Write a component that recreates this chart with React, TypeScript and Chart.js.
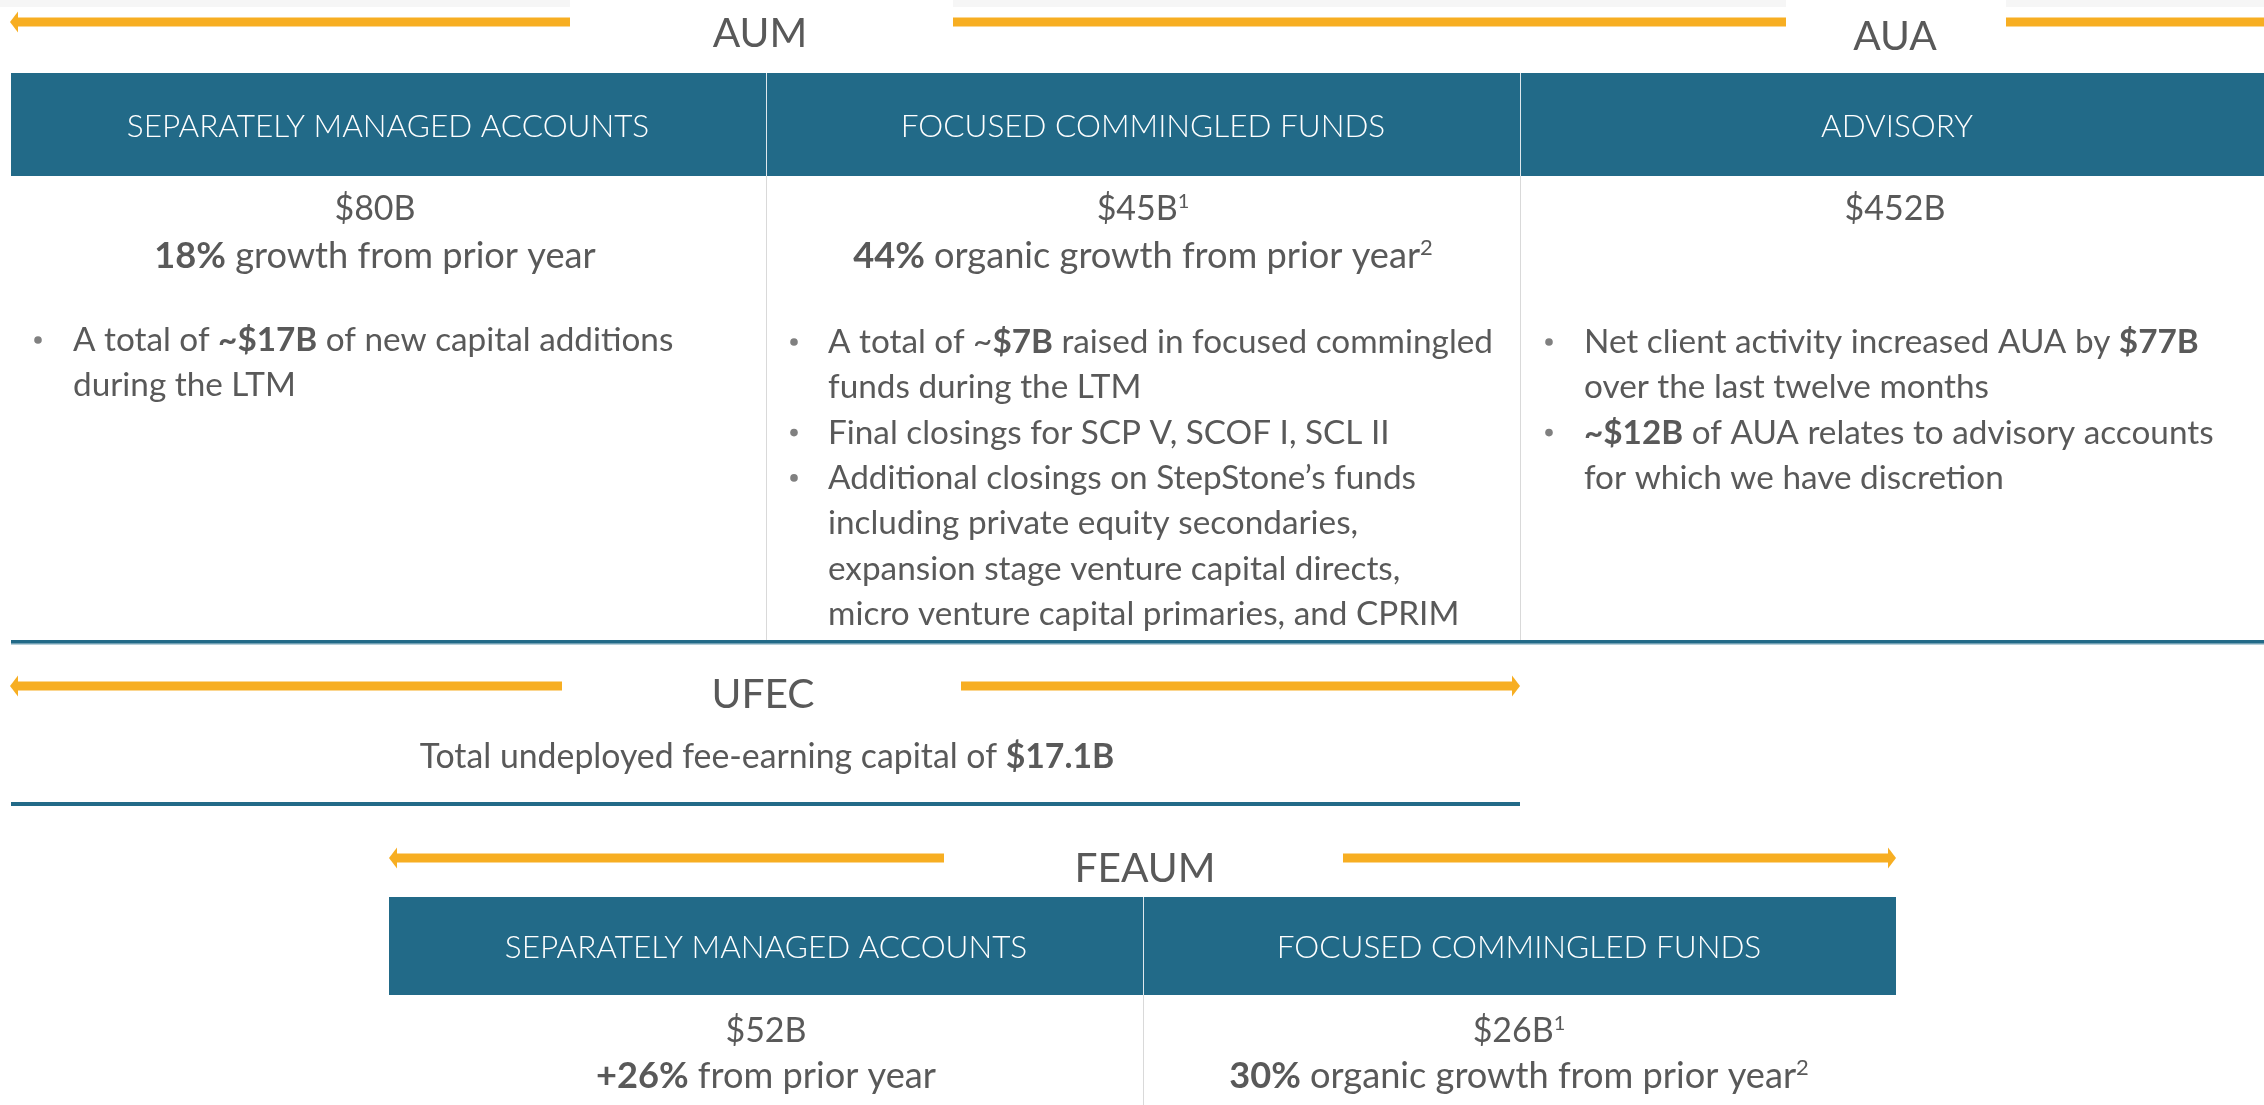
import React, { useEffect, useRef } from 'react';
import { Chart, registerables } from 'chart.js';

Chart.register(...registerables);

const W = 2264;
const H = 1105;

// ---- data ----
const sectionTitles = ['AUM', 'AUA', 'UFEC', 'FEAUM'];
const aumCategories = ['SEPARATELY MANAGED ACCOUNTS', 'FOCUSED COMMINGLED FUNDS', 'ADVISORY'];
const aumValuesB = [80, 45, 452];
const aumValueNotes = ['', '1', ''];
const aumGrowthPct: (number | null)[] = [18, 44, null];
const aumGrowthLabels = ['growth from prior year', 'organic growth from prior year', ''];
const aumGrowthNotes = ['', '2', ''];
const smaBullets = [['A total of **~$17B** of new capital additions', 'during the LTM']];
const fcfBullets = [
  ['A total of ~**$7B** raised in focused commingled', 'funds during the LTM'],
  ['Final closings for SCP V, SCOF I, SCL II'],
  [
    'Additional closings on StepStone\u2019s funds',
    'including private equity secondaries,',
    'expansion stage venture capital directs,',
    'micro venture capital primaries, and CPRIM',
  ],
];
const advisoryBullets = [
  ['Net client activity increased AUA by **$77B**', 'over the last twelve months'],
  ['**~$12B** of AUA relates to advisory accounts', 'for which we have discretion'],
];
const ufecValueB = 17.1;
const ufecLabel = 'Total undeployed fee-earning capital of';
const feaumCategories = ['SEPARATELY MANAGED ACCOUNTS', 'FOCUSED COMMINGLED FUNDS'];
const feaumValuesB = [52, 26];
const feaumValueNotes = ['', '1'];
const feaumGrowthPrefix = ['+', ''];
const feaumGrowthPct = [26, 30];
const feaumGrowthLabels = ['from prior year', 'organic growth from prior year'];
const feaumGrowthNotes = ['', '2'];

// ---- style ----
const TEAL = '#226A88';
const ORANGE = '#F7AE22';
const TEXT = '#595959';
const FONT = 'Lato';
const LINE_H = 45.3;

type Seg = { t: string; w: number; sup?: boolean };

function parse(s: string, baseWeight: number): Seg[] {
  const out: Seg[] = [];
  const re = /(\*\*[^*]+\*\*|\^\d)/g;
  let last = 0;
  let m: RegExpExecArray | null;
  while ((m = re.exec(s))) {
    if (m.index > last) out.push({ t: s.slice(last, m.index), w: baseWeight });
    const tok = m[0];
    if (tok.startsWith('**')) out.push({ t: tok.slice(2, -2), w: 700 });
    else out.push({ t: tok.slice(1), w: baseWeight, sup: true });
    last = re.lastIndex;
  }
  if (last < s.length) out.push({ t: s.slice(last), w: baseWeight });
  return out;
}

function segFont(sg: Seg, size: number) {
  return `${sg.w} ${sg.sup ? Math.round(size * 0.6) : size}px ${FONT}`;
}

function measureRich(ctx: CanvasRenderingContext2D, s: string, size: number, baseWeight: number) {
  return parse(s, baseWeight).reduce((acc, sg) => {
    ctx.font = segFont(sg, size);
    return acc + ctx.measureText(sg.t).width;
  }, 0);
}

function fitSize(ctx: CanvasRenderingContext2D, s: string, baseWeight: number, target: number) {
  const w = measureRich(ctx, s, 40, baseWeight);
  return Math.round((40 * target) / w * 10) / 10;
}

function drawRich(
  ctx: CanvasRenderingContext2D,
  s: string,
  x: number,
  y: number,
  align: 'left' | 'center',
  size: number,
  baseWeight: number,
  color: string
) {
  const segs = parse(s, baseWeight);
  const widths = segs.map((sg) => {
    ctx.font = segFont(sg, size);
    return ctx.measureText(sg.t).width;
  });
  const total = widths.reduce((a, b) => a + b, 0);
  let cx = align === 'center' ? x - total / 2 : x;
  ctx.fillStyle = color;
  ctx.textAlign = 'left';
  ctx.textBaseline = 'alphabetic';
  segs.forEach((sg, i) => {
    ctx.font = segFont(sg, size);
    ctx.fillText(sg.t, cx, sg.sup ? y - size * 0.36 : y);
    cx += widths[i];
  });
}

function arrow(
  ctx: CanvasRenderingContext2D,
  x1: number,
  x2: number,
  y: number,
  headLeft: boolean,
  headRight: boolean
) {
  const t = 9;
  const hh = 10.5;
  const hl = 8;
  ctx.fillStyle = ORANGE;
  ctx.fillRect(x1 + (headLeft ? hl : 0), y - t / 2, x2 - x1 - (headLeft ? hl : 0) - (headRight ? hl : 0), t);
  if (headLeft) {
    ctx.beginPath();
    ctx.moveTo(x1, y);
    ctx.lineTo(x1 + hl, y - hh);
    ctx.lineTo(x1 + hl, y + hh);
    ctx.closePath();
    ctx.fill();
  }
  if (headRight) {
    ctx.beginPath();
    ctx.moveTo(x2, y);
    ctx.lineTo(x2 - hl, y - hh);
    ctx.lineTo(x2 - hl, y + hh);
    ctx.closePath();
    ctx.fill();
  }
}

function bullets(
  ctx: CanvasRenderingContext2D,
  list: string[][],
  dotX: number,
  textX: number,
  y0: number,
  size: number
) {
  let y = y0;
  list.forEach((lines) => {
    ctx.fillStyle = '#808080';
    ctx.beginPath();
    ctx.arc(dotX, y - 11, 3.8, 0, Math.PI * 2);
    ctx.fill();
    lines.forEach((ln) => {
      drawRich(ctx, ln, textX, y, 'left', size, 400, TEXT);
      y += LINE_H;
    });
  });
}

const infographic = {
  id: 'infographic',
  afterDraw(chart: Chart) {
    const ctx = chart.ctx;
    ctx.save();

    // calibrate type sizes against the reference widths of sample strings
    const TITLE_SIZE = fitSize(ctx, 'FEAUM', 400, 141);
    const HEAD_SIZE = fitSize(ctx, 'SEPARATELY MANAGED ACCOUNTS', 300, 523);
    const VALUE_SIZE = fitSize(ctx, '$452B', 400, 101);
    const GROWTH_SIZE = fitSize(ctx, '**44%** organic growth from prior year^2', 400, 579);
    const BODY_SIZE = fitSize(ctx, 'A total of **~$17B** of new capital additions', 400, 601);
    const UFEC_SIZE = fitSize(ctx, `${ufecLabel} **$17.1B**`, 400, 694);

    ctx.fillStyle = '#ffffff';
    ctx.fillRect(0, 0, W, H);

    // top strip
    ctx.fillStyle = '#f6f6f6';
    ctx.fillRect(0, 0, 570, 7);
    ctx.fillRect(953, 0, 1786 - 953, 7);
    ctx.fillRect(2006, 0, W - 2006, 7);

    // top arrows
    arrow(ctx, 10, 570, 22, true, false);
    arrow(ctx, 953, 1786, 22, false, false);
    arrow(ctx, 2006, W + 20, 22, false, false);

    drawRich(ctx, sectionTitles[0], 760, 47, 'center', TITLE_SIZE, 400, TEXT);
    drawRich(ctx, sectionTitles[1], 1895, 50, 'center', TITLE_SIZE, 400, TEXT);

    // header band row 1
    ctx.fillStyle = TEAL;
    ctx.fillRect(11, 73, W - 11, 103);
    ctx.fillStyle = '#dfe8ed';
    ctx.fillRect(766, 73, 1, 103);
    ctx.fillRect(1520, 73, 1, 103);
    const headCenters = [388, 1143, 1897];
    aumCategories.forEach((c, i) => drawRich(ctx, c, headCenters[i], 137, 'center', HEAD_SIZE, 300, '#ffffff'));

    // grey dividers
    ctx.fillStyle = '#d9d9d9';
    ctx.fillRect(766, 176, 1, 465);
    ctx.fillRect(1520, 176, 1, 465);

    // values row 1
    const valCenters = [375, 1143, 1895];
    aumValuesB.forEach((v, i) => {
      const note = aumValueNotes[i] ? `^${aumValueNotes[i]}` : '';
      drawRich(ctx, `$${v}B${note}`, valCenters[i], 220, 'center', VALUE_SIZE, 400, TEXT);
      const g = aumGrowthPct[i];
      if (g !== null) {
        const gn = aumGrowthNotes[i] ? `^${aumGrowthNotes[i]}` : '';
        drawRich(ctx, `**${g}%** ${aumGrowthLabels[i]}${gn}`, valCenters[i], 268, 'center', GROWTH_SIZE, 400, TEXT);
      }
    });

    bullets(ctx, smaBullets, 38, 73, 351, BODY_SIZE);
    bullets(ctx, fcfBullets, 794, 828, 353, BODY_SIZE);
    bullets(ctx, advisoryBullets, 1549, 1584, 353, BODY_SIZE);

    // teal line
    ctx.fillStyle = TEAL;
    ctx.fillRect(11, 640, W - 11, 3);
    ctx.fillStyle = '#6f9fb3';
    ctx.fillRect(11, 643, W - 11, 1.5);

    // UFEC
    arrow(ctx, 10, 562, 686, true, false);
    arrow(ctx, 961, 1520, 686, false, true);
    drawRich(ctx, sectionTitles[2], 763, 708, 'center', TITLE_SIZE, 400, TEXT);
    drawRich(ctx, `${ufecLabel} **$${ufecValueB}B**`, 767, 768, 'center', UFEC_SIZE, 400, TEXT);
    ctx.fillStyle = TEAL;
    ctx.fillRect(11, 802, 1520 - 11, 4);

    // FEAUM
    arrow(ctx, 389, 944, 858, true, false);
    arrow(ctx, 1343, 1896, 858, false, true);
    drawRich(ctx, sectionTitles[3], 1145, 882, 'center', TITLE_SIZE, 400, TEXT);
    ctx.fillStyle = TEAL;
    ctx.fillRect(389, 897, 1896 - 389, 98);
    ctx.fillStyle = '#dfe8ed';
    ctx.fillRect(1143, 897, 1, 98);
    ctx.fillStyle = '#d9d9d9';
    ctx.fillRect(1143, 995, 1, H - 995);
    const fCenters = [766, 1519];
    feaumCategories.forEach((c, i) => drawRich(ctx, c, fCenters[i], 958, 'center', HEAD_SIZE, 300, '#ffffff'));
    feaumValuesB.forEach((v, i) => {
      const note = feaumValueNotes[i] ? `^${feaumValueNotes[i]}` : '';
      drawRich(ctx, `$${v}B${note}`, fCenters[i], 1042, 'center', VALUE_SIZE, 400, TEXT);
      const gn = feaumGrowthNotes[i] ? `^${feaumGrowthNotes[i]}` : '';
      drawRich(
        ctx,
        `**${feaumGrowthPrefix[i]}${feaumGrowthPct[i]}%** ${feaumGrowthLabels[i]}${gn}`,
        fCenters[i],
        1088,
        'center',
        GROWTH_SIZE,
        400,
        TEXT
      );
    });
    ctx.restore();
  },
};

export default function App() {
  const ref = useRef<HTMLCanvasElement | null>(null);
  useEffect(() => {
    if (!ref.current) return;
    const chart = new Chart(ref.current, {
      type: 'scatter',
      data: { datasets: [] },
      options: {
        animation: false,
        responsive: false,
        maintainAspectRatio: false,
        devicePixelRatio: 1,
        layout: { padding: 0 },
        plugins: { legend: { display: false }, tooltip: { enabled: false }, title: { display: false } },
        scales: { x: { display: false }, y: { display: false } },
      },
      plugins: [infographic as any],
    });
    return () => chart.destroy();
  }, []);
  return (
    <div style={{ position: 'fixed', left: 0, top: 0, width: W, height: H, background: '#fff' }}>
      <canvas ref={ref} width={W} height={H} style={{ display: 'block', width: W, height: H }} />
    </div>
  );
}
